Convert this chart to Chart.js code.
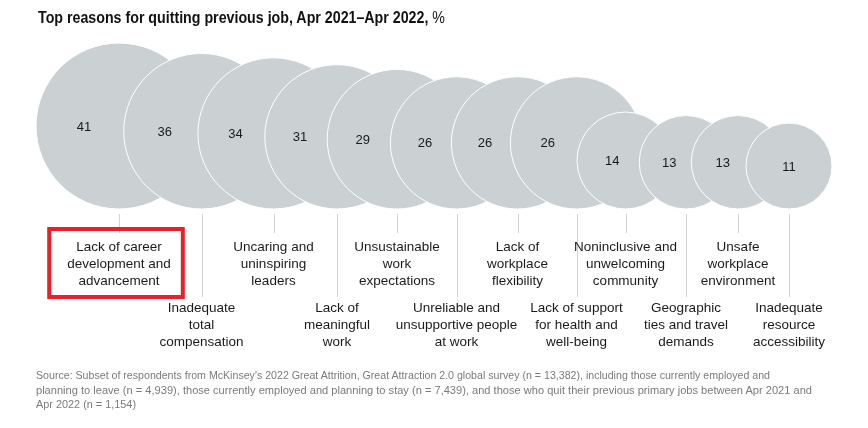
<!DOCTYPE html>
<html>
<head>
<meta charset="utf-8">
<script src="https://cdn.jsdelivr.net/npm/chart.js@4.4.0/dist/chart.umd.min.js"></script>
<style>
    html, body { margin: 0; padding: 0; background: #fff; }
    body { width: 868px; height: 428px; position: relative; overflow: hidden; font-family: "Liberation Sans", Arial, sans-serif; }
    #chart { position: absolute; left: 0; top: 0; }
    .title { position: absolute; left: 38px; top: 8px; font-size: 16.5px; color: #111; white-space: nowrap; transform-origin: 0 0; }
    .title b { font-weight: bold; }
    .note { position: absolute; left: 36px; top: 368px; font-size: 11.5px; line-height: 14.5px; color: #7a7a7a; white-space: nowrap; }
    .note span { display: block; transform-origin: 0 0; }
</style>
</head>
<body>
<canvas id="chart" width="868" height="428"></canvas>
<div class="title" id="title"><b>Top reasons for quitting previous job, Apr 2021–Apr 2022,</b> %</div>
<div class="note" id="note">
    <span data-w="734">Source: Subset of respondents from McKinsey's 2022 Great Attrition, Great Attraction 2.0 global survey (n = 13,382), including those currently employed and</span>
    <span data-w="776">planning to leave (n = 4,939), those currently employed and planning to stay (n = 7,439), and those who quit their previous primary jobs between Apr 2021 and</span>
    <span data-w="100">Apr 2022 (n = 1,154)</span>
</div>
<script>
// reasons, share of respondents (%)
const reasons = [
    ['Lack of career', 'development and', 'advancement'],
    ['Inadequate', 'total', 'compensation'],
    ['Uncaring and', 'uninspiring', 'leaders'],
    ['Lack of', 'meaningful', 'work'],
    ['Unsustainable', 'work', 'expectations'],
    ['Unreliable and', 'unsupportive people', 'at work'],
    ['Lack of', 'workplace', 'flexibility'],
    ['Lack of support', 'for health and', 'well-being'],
    ['Noninclusive and', 'unwelcoming', 'community'],
    ['Geographic', 'ties and travel', 'demands'],
    ['Unsafe', 'workplace', 'environment'],
    ['Inadequate', 'resource', 'accessibility']
];
const shares = [41, 36, 34, 31, 29, 26, 26, 26, 14, 13, 13, 11];
// horizontal placement of each bubble along the row
const positions = [119, 201.5, 273.5, 337, 397, 456.5, 517.5, 576.5, 625.5, 686, 738, 789];

const RADIUS_PER_ROOT = 12.96; // bubble area proportional to share
const highlighted = 0;

const radius = v => RADIUS_PER_ROOT * Math.sqrt(v);

const bubbleLabels = {
    id: 'bubbleLabels',
    afterDatasetsDraw(chart) {
        const { ctx } = chart;
        const meta = chart.getDatasetMeta(0);
        const bottom = chart.chartArea.bottom;

        ctx.save();
        ctx.fillStyle = '#1a1a1a';
        ctx.font = '13px "Liberation Sans", Arial, sans-serif';
        ctx.textAlign = 'center';
        ctx.textBaseline = 'middle';
        meta.data.forEach((pt, i) => {
            const r = radius(shares[i]);
            const left = pt.x - r;
            let x = pt.x;
            if (i < meta.data.length - 1) {
                const next = meta.data[i + 1];
                x = (left + next.x - radius(shares[i + 1])) / 2 + 4;
            }
            ctx.fillText(String(shares[i]), x, pt.y + 1);
        });

        // leader lines and category names, alternating rows
        ctx.font = '13.5px "Liberation Sans", Arial, sans-serif';
        ctx.textBaseline = 'alphabetic';
        meta.data.forEach((pt, i) => {
            const lower = i % 2 === 1;
            ctx.strokeStyle = '#d3d3d3';
            ctx.lineWidth = 1;
            ctx.beginPath();
            const lx = Math.round(pt.x) + 0.5;
            ctx.moveTo(lx, bottom + 5);
            ctx.lineTo(lx, lower ? bottom + 88 : bottom + 24);
            ctx.stroke();

            const top = lower ? bottom + 103 : bottom + 42;
            ctx.fillStyle = '#1a1a1a';
            reasons[i].forEach((line, j) => {
                ctx.fillText(line, pt.x, top + j * 17);
            });

            if (i === highlighted) {
                const w = Math.max(...reasons[i].map(l => ctx.measureText(l).width));
                ctx.strokeStyle = '#e8202a';
                ctx.lineWidth = 4;
                ctx.strokeRect(pt.x - w / 2 - 18, bottom + 20, w + 30, 68);
            }
        });
        ctx.restore();
    }
};

new Chart(document.getElementById('chart'), {
    type: 'bubble',
    data: {
        datasets: [{
            data: shares.map((v, i) => ({ x: positions[i], y: radius(v), r: radius(v) })),
            backgroundColor: '#cbd0d2',
            borderColor: '#ffffff',
            borderWidth: 1,
            clip: false
        }]
    },
    options: {
        responsive: false,
        devicePixelRatio: 1,
        animation: false,
        events: [],
        layout: { autoPadding: false, padding: { top: 40, bottom: 219, left: 0, right: 0 } },
        scales: {
            x: { type: 'linear', min: 0, max: 868, display: false },
            y: { type: 'linear', min: 0, max: 169, display: false }
        },
        plugins: {
            legend: { display: false },
            tooltip: { enabled: false }
        }
    },
    plugins: [bubbleLabels]
});

// squeeze the html text to the widths of the original narrow typeface
function fitWidth(el, target) {
    const w = el.getBoundingClientRect().width;
    if (w > 0) el.style.transform = 'scaleX(' + (target / w) + ')';
}
const title = document.getElementById('title');
fitWidth(title, 407);
document.querySelectorAll('#note span').forEach(s => {
    s.style.display = 'inline-block';
    fitWidth(s, +s.dataset.w);
    s.style.display = 'block';
});
</script>
</body>
</html>
